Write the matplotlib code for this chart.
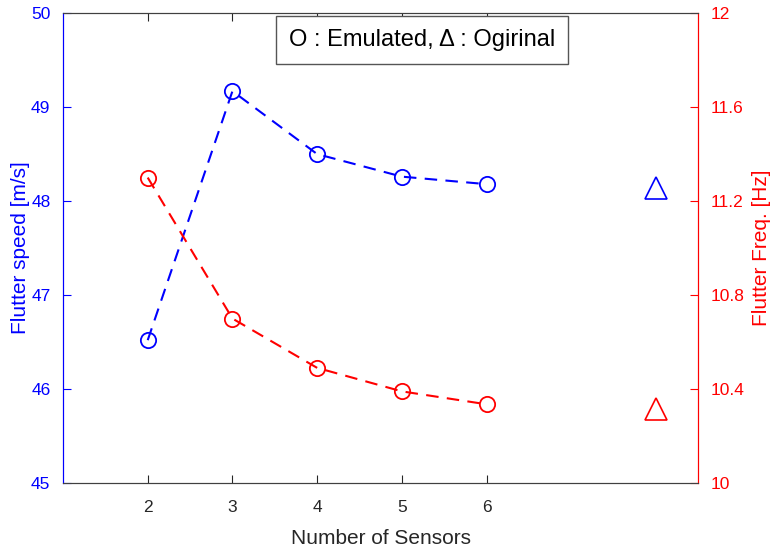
import numpy as np
import matplotlib.pyplot as plt
from matplotlib.ticker import FuncFormatter

plt.rcParams['font.family'] = ['Liberation Sans', 'DejaVu Sans']

# emulated results vs number of sensors
sensors = [2, 3, 4, 5, 6]
speed_emul = [46.52, 49.17, 48.50, 48.26, 48.18]
freq_emul = [11.30, 10.70, 10.49, 10.39, 10.335]

# original (reference) values, drawn at x = 8
x_orig = [8]
speed_orig = [48.14]
freq_orig = [10.315]

blue = '#0000ff'
red = '#ff0000'

fig = plt.figure(figsize=(7.73, 5.47), dpi=100)
ax = fig.add_axes([0.0815, 0.117, 0.822, 0.859])
ax2 = ax.twinx()

ax.plot(sensors, speed_emul, '--', color=blue, lw=1.5, dashes=(6, 4),
        marker='o', ms=11, mfc='none', mec=blue, mew=1.3)
ax.plot(x_orig, speed_orig, ls='none', marker='^', ms=16, mfc='none', mec=blue, mew=1.2)

ax2.plot(sensors, freq_emul, '--', color=red, lw=1.5, dashes=(6, 4),
         marker='o', ms=11, mfc='none', mec=red, mew=1.3)
ax2.plot(x_orig, freq_orig, ls='none', marker='^', ms=16, mfc='none', mec=red, mew=1.2)

ax.set_xlim(1, 8.5)
ax.set_ylim(45, 50)
ax2.set_ylim(10, 12)
ax.set_xticks(sensors)
ax.set_yticks(np.arange(45, 51, 1))
ax2.set_yticks([10, 10.4, 10.8, 11.2, 11.6, 12])
ax2.yaxis.set_major_formatter(FuncFormatter(lambda v, p: f'{v:g}'))

ax.tick_params(axis='x', direction='in', top=True, length=6, labelsize=12.5,
               colors='#262626', pad=12)
ax.tick_params(axis='y', direction='in', length=6, labelsize=12.5, colors=blue, pad=9)
ax2.tick_params(axis='y', direction='in', length=6, labelsize=12.5, colors=red, pad=9)

for a in (ax, ax2):
    a.spines['top'].set_color('#404040')
    a.spines['bottom'].set_color('#404040')
    a.spines['left'].set_color(blue)
    a.spines['right'].set_color(red)

ax.set_xlabel('Number of Sensors', fontsize=15, color='#262626', labelpad=10)
ax.set_ylabel('Flutter speed [m/s]', fontsize=15, color=blue, labelpad=1)
ax2.set_ylabel('Flutter Freq. [Hz]', fontsize=15, color=red, labelpad=5)

ax.text(0.565, 0.9426, 'O : Emulated, \u0394 : Ogirinal', transform=ax.transAxes,
        ha='center', va='center', fontsize=17,
        bbox=dict(boxstyle='square,pad=0.55', fc='white', ec='#555555', lw=1))

fig.savefig('out.png', dpi=100)
